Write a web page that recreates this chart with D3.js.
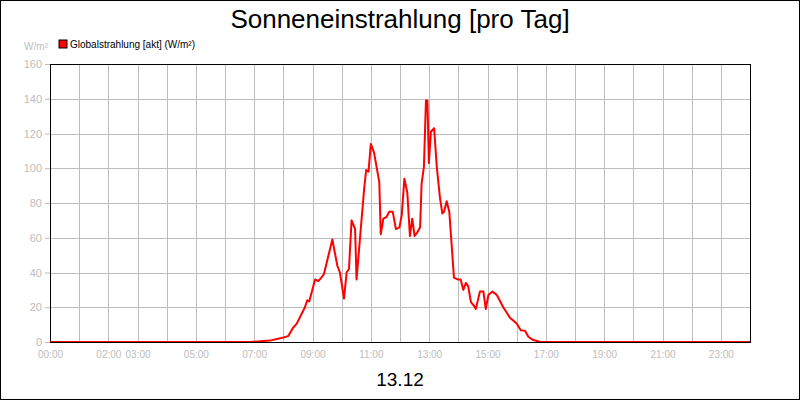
<!DOCTYPE html>
<html><head><meta charset="utf-8">
<script src="https://cdn.jsdelivr.net/npm/d3@7"></script>
<style>body{margin:0}svg{font-family:"Liberation Sans",Arial,sans-serif}</style>
</head><body><svg id="c" width="800" height="400"></svg>
<script>
var hours = [0,6.86,7.54,8.0,8.17,8.34,8.46,8.74,8.82,8.89,9.09,9.2,9.3,9.39,9.68,9.85,9.94,10.08,10.17,10.25,10.34,10.46,10.51,10.63,10.77,10.84,10.92,11.0,11.11,11.29,11.34,11.43,11.54,11.63,11.75,11.86,11.98,12.06,12.15,12.25,12.34,12.42,12.5,12.59,12.69,12.74,12.82,12.89,12.94,12.99,13.06,13.17,13.26,13.37,13.45,13.51,13.6,13.69,13.85,13.97,14.08,14.17,14.26,14.34,14.43,14.53,14.6,14.74,14.86,14.94,15.03,15.17,15.32,15.54,15.77,16.0,16.14,16.29,16.4,16.57,16.8,17.14,24];
var values = [0,0,0.8,2.6,3.4,8.3,10.6,20,24,23.4,36,35,37,39,59,44,40,25,40,42,70,65,36,60,88,99,98,114,109,92,62,71,72,75,75,65,66,73,94,86,61,71,61,63,66,91,101,139,139,103,121,123,101,83,74,75,81,75,37,36,36,30,34,32,23,21,19,29,29,19,27,29,27,20,14,10.6,6.8,6.4,3,1.1,0.2,0,0];
var tickHours = [0,2,3,5,7,9,11,13,15,17,19,21,23];
var yTicks = [0,20,40,60,80,100,120,140,160];
var seriesName = "Globalstrahlung [akt] (W/m²)";

var svg = d3.select("#c");
var L = 50, R = 750, T = 64, B = 342;
var x = d3.scaleLinear().domain([0, 24]).range([L, R]);
var y = d3.scaleLinear().domain([0, 160]).range([B, T]);

svg.append("rect").attr("x", 0.5).attr("y", 0.5).attr("width", 799).attr("height", 399)
  .attr("fill", "white").attr("stroke", "black");

var grid = svg.append("g").attr("stroke", "#bdbdbd").attr("stroke-width", 1);
grid.selectAll(".v").data(d3.range(1, 24)).enter().append("line")
  .attr("x1", d => Math.round(x(d)) + 0.5).attr("x2", d => Math.round(x(d)) + 0.5)
  .attr("y1", T).attr("y2", B);
grid.selectAll(".h").data(yTicks.slice(1, -1)).enter().append("line")
  .attr("y1", d => Math.round(y(d)) + 0.5).attr("y2", d => Math.round(y(d)) + 0.5)
  .attr("x1", L).attr("x2", R);

var yAxis = svg.append("g").attr("transform", "translate(" + L + ",0)")
  .call(d3.axisLeft(y).tickValues(yTicks).tickSize(5).tickPadding(3));
yAxis.select(".domain").remove();
yAxis.selectAll("line").attr("stroke", "#bdbdbd");
yAxis.selectAll("text").attr("fill", "#bdbdbd").style("font-size", "11px").style("font-family", "Liberation Sans, Arial");

var xAxis = svg.append("g").attr("transform", "translate(0," + B + ")")
  .call(d3.axisBottom(x).tickValues(tickHours).tickSize(0).tickPadding(9)
    .tickFormat(d => (d < 10 ? "0" : "") + d + ":00"));
xAxis.select(".domain").remove();
xAxis.selectAll("text").attr("fill", "#bdbdbd").style("font-size", "10px").style("font-family", "Liberation Sans, Arial");

svg.append("rect").attr("x", L + 0.5).attr("y", T + 0.5).attr("width", R - L).attr("height", B - T)
  .attr("fill", "none").attr("stroke", "black");

svg.append("path").datum(hours.map((h, i) => [h, values[i]]))
  .attr("fill", "none").attr("stroke", "#ff0000").attr("stroke-width", 2)
  .attr("stroke-linejoin", "round")
  .attr("d", d3.line().x(d => x(d[0])).y(d => y(d[1])));

svg.append("line").attr("x1", L).attr("x2", R).attr("y1", B + 0.5).attr("y2", B + 0.5).attr("stroke", "black");

svg.append("text").attr("x", 400).attr("y", 28).attr("text-anchor", "middle")
  .style("font-size", "26px").text("Sonneneinstrahlung [pro Tag]");
svg.append("text").attr("x", 400).attr("y", 386).attr("text-anchor", "middle")
  .style("font-size", "19px").text("13.12");
svg.append("text").attr("x", 48).attr("y", 50).attr("text-anchor", "end")
  .attr("fill", "#bdbdbd").style("font-size", "10px").text("W/m²");
svg.append("rect").attr("x", 59).attr("y", 40).attr("width", 8).attr("height", 8)
  .attr("fill", "#ff0000").attr("stroke", "black");
svg.append("text").attr("x", 70).attr("y", 48).style("font-size", "10px").text(seriesName);
</script></body></html>
